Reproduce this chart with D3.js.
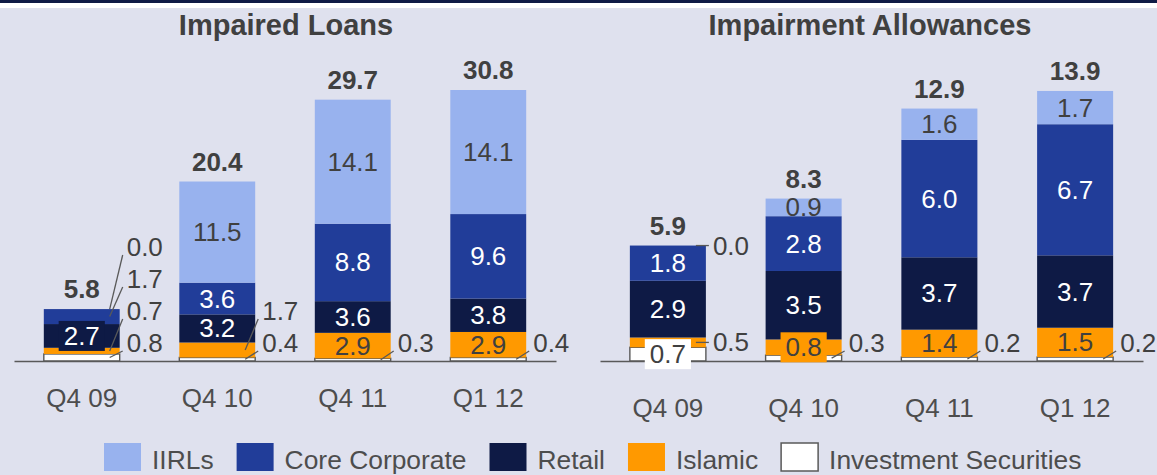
<!DOCTYPE html>
<html>
<head>
<meta charset="utf-8">
<script src="https://cdn.jsdelivr.net/npm/d3@7"></script>
<style>
  body { margin: 0; background: #dfe1ee; }
  svg { display: block; font-family: "Liberation Sans", Arial, sans-serif; }
</style>
</head>
<body>
<svg width="1157" height="475"></svg>
<script>
var categories = ["Q4 09", "Q4 10", "Q4 11", "Q1 12"];
// stack order, bottom to top
var seriesNames = ["Investment Securities", "Islamic", "Retail", "Core Corporate", "IIRLs"];
var legendNames = ["IIRLs", "Core Corporate", "Retail", "Islamic", "Investment Securities"];

// Impaired Loans
var loansIIRLs   = [0.0, 11.5, 14.1, 14.1];
var loansCore    = [1.7, 3.6, 8.8, 9.6];
var loansRetail  = [2.7, 3.2, 3.6, 3.8];
var loansIslamic = [0.7, 1.7, 2.9, 2.9];
var loansInvest  = [0.8, 0.4, 0.3, 0.4];
var loansTotal   = [5.8, 20.4, 29.7, 30.8];

// Impairment Allowances
var allowIIRLs   = [0.0, 0.9, 1.6, 1.7];
var allowCore    = [1.8, 2.8, 6.0, 6.7];
var allowRetail  = [2.9, 3.5, 3.7, 3.7];
var allowIslamic = [0.5, 0.8, 1.4, 1.5];
var allowInvest  = [0.7, 0.3, 0.2, 0.2];
var allowTotal   = [5.9, 8.3, 12.9, 13.9];

var colors = {
  "IIRLs": "#98b2ee",
  "Core Corporate": "#213d99",
  "Retail": "#0e1a45",
  "Islamic": "#ff9900",
  "Investment Securities": "#ffffff"
};
var labelColors = {
  "IIRLs": "#404040",
  "Core Corporate": "#ffffff",
  "Retail": "#ffffff",
  "Islamic": "#404040",
  "Investment Securities": "#404040"
};
var textGrey = "#404040";
var lineGrey = "#595959";
var fmt = d3.format(".1f");
var base = 361;

var svg = d3.select("svg");
svg.append("rect").attr("width", 1157).attr("height", 475).attr("fill", "#dfe1ee");
svg.append("rect").attr("width", 1157).attr("height", 8).attr("fill", "#ffffff");
svg.append("rect").attr("width", 1157).attr("height", 3).attr("fill", "#0e1a45");

function drawPanel(opt) {
  var g = svg.append("g");
  var rows = categories.map(function(c, i) {
    var o = {cat: c};
    seriesNames.forEach(function(s) { o[s] = opt.values[s][i]; });
    return o;
  });
  var layers = d3.stack().keys(seriesNames)(rows);

  var x = d3.scaleBand()
    .domain(categories)
    .range(opt.xRange)
    .paddingInner(0.44)
    .paddingOuter(0.22);
  var y = d3.scaleLinear()
    .domain([0, d3.max(opt.totals)])
    .range([base, opt.top]);

  // title
  g.append("text")
    .attr("x", opt.titleX)
    .attr("y", 35)
    .attr("text-anchor", "middle")
    .attr("font-size", 29)
    .attr("font-weight", "bold")
    .attr("fill", textGrey)
    .text(opt.title);

  // bars
  layers.forEach(function(layer) {
    g.append("g").selectAll("rect")
      .data(layer.filter(function(d) { return d[1] - d[0] > 0; }))
      .enter()
      .append("rect")
        .attr("x", function(d) { return x(d.data.cat); })
        .attr("y", function(d) { return y(d[1]); })
        .attr("width", x.bandwidth())
        .attr("height", function(d) { return y(d[0]) - y(d[1]); })
        .attr("fill", colors[layer.key])
        .attr("stroke", layer.key == "Investment Securities" ? lineGrey : "none")
        .attr("stroke-width", 1.4);
  });

  // axis
  var axis = g.append("g")
    .attr("transform", "translate(0," + base + ")")
    .call(d3.axisBottom(x).tickSize(0).tickPadding(opt.pad));
  axis.select(".domain").attr("stroke", lineGrey).attr("stroke-width", 1.5);
  axis.selectAll("text")
    .attr("font-size", 26)
    .attr("font-family", "Liberation Sans, Arial, sans-serif")
    .attr("fill", "#4d4d4d");

  // segment labels
  var calloutCount = categories.map(function() { return 0; });
  var labels = g.append("g");
  layers.forEach(function(layer) {
    var key = layer.key;
    layer.forEach(function(d, i) {
      var cat = d.data.cat;
      var v = d.data[key];
      var y0 = y(d[0]), y1 = y(d[1]);
      var h = y0 - y1;
      var cx = x(cat) + x.bandwidth() / 2;
      var cy = (y0 + y1) / 2;
      var right = x(cat) + x.bandwidth();

      if (opt.boxes.indexOf(cat + "|" + key) >= 0) {
        var t = labels.append("text")
          .attr("x", cx).attr("y", cy)
          .attr("text-anchor", "middle")
          .attr("dominant-baseline", "central")
          .attr("font-size", 26)
          .attr("fill", labelColors[key])
          .text(fmt(v));
        var w = t.node().getComputedTextLength() + 10;
        labels.insert("rect", function() { return t.node(); })
          .attr("x", cx - w / 2).attr("y", cy - 15)
          .attr("width", w).attr("height", 30)
          .attr("fill", colors[key]);
      } else if (h < 16) {
        var stackY = base - 18 - 32 * calloutCount[i];
        calloutCount[i]++;
        var ly = Math.min(stackY, cy);
        labels.append("line")
          .attr("x1", right - 10).attr("y1", cy)
          .attr("x2", right + 3).attr("y2", Math.min(ly + 8, cy))
          .attr("stroke", lineGrey)
          .attr("stroke-width", 1.3);
        labels.append("text")
          .attr("x", right + 7).attr("y", ly)
          .attr("dominant-baseline", "central")
          .attr("font-size", 26)
          .attr("fill", textGrey)
          .text(fmt(v));
      } else {
        labels.append("text")
          .attr("x", cx).attr("y", cy)
          .attr("text-anchor", "middle")
          .attr("dominant-baseline", "central")
          .attr("font-size", 26)
          .attr("fill", labelColors[key])
          .text(fmt(v));
      }
    });
  });

  // totals
  g.append("g").selectAll("text")
    .data(layers[layers.length - 1])
    .enter()
    .append("text")
      .attr("x", function(d) { return x(d.data.cat) + x.bandwidth() / 2; })
      .attr("y", function(d) { return y(d[1]) - 11; })
      .attr("text-anchor", "middle")
      .attr("font-size", 26)
      .attr("font-weight", "bold")
      .attr("fill", textGrey)
      .text(function(d, i) { return fmt(opt.totals[i]); });
}

drawPanel({
  title: "Impaired Loans",
  titleX: 286,
  xRange: [14, 556],
  top: 90,
  pad: 28,
  totals: loansTotal,
  values: {
    "IIRLs": loansIIRLs,
    "Core Corporate": loansCore,
    "Retail": loansRetail,
    "Islamic": loansIslamic,
    "Investment Securities": loansInvest
  },
  boxes: ["Q4 09|Retail"]
});

drawPanel({
  title: "Impairment Allowances",
  titleX: 870,
  xRange: [600, 1143],
  top: 89,
  pad: 38,
  totals: allowTotal,
  values: {
    "IIRLs": allowIIRLs,
    "Core Corporate": allowCore,
    "Retail": allowRetail,
    "Islamic": allowIslamic,
    "Investment Securities": allowInvest
  },
  boxes: ["Q4 09|Investment Securities", "Q4 10|Islamic"]
});

// legend
var legend = svg.append("g");
var lx = 104;
legendNames.forEach(function(name) {
  legend.append("rect")
    .attr("x", lx).attr("y", 443)
    .attr("width", 37).attr("height", 28)
    .attr("fill", colors[name])
    .attr("stroke", name == "Investment Securities" ? lineGrey : "none")
    .attr("stroke-width", 1.5);
  var t = legend.append("text")
    .attr("x", lx + 48).attr("y", 469)
    .attr("font-size", 26.4)
    .attr("fill", "#4d4d4d")
    .text(name);
  lx = lx + 48 + t.node().getComputedTextLength() + 23;
});
</script>
</body>
</html>
